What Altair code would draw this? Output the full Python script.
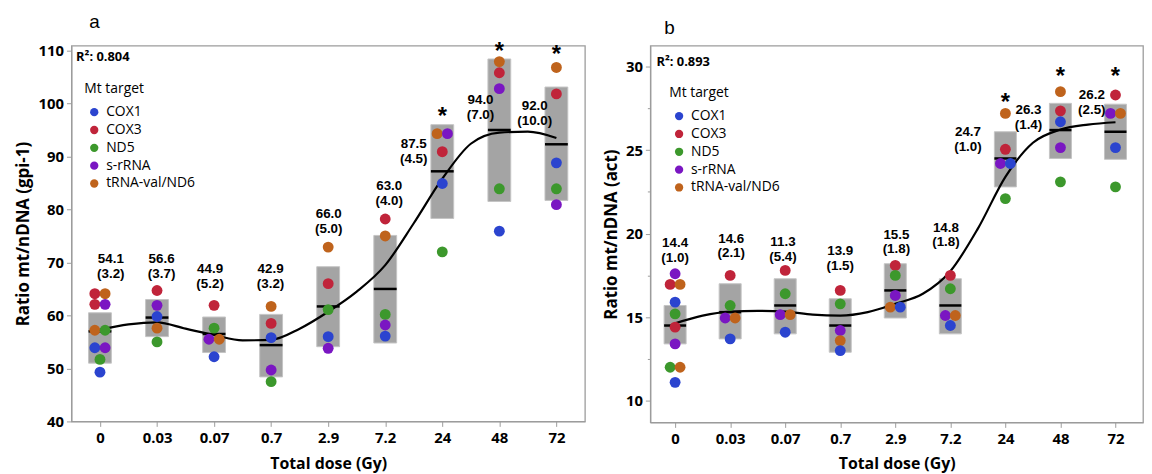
import json
import altair as alt
import pandas as pd

DOSE_LABELS = ["0", "0.03", "0.07", "0.7", "2.9", "7.2", "24", "48", "72"]
TARGETS = ["COX1", "COX3", "ND5", "s-rRNA", "tRNA-val/ND6"]
COLORS = ["#2b44cf", "#c0243a", "#3c982c", "#7a16c2", "#bf631c"]

# ---------------- Panel a (gpi-1) ----------------
A_PT_DOSE = [0, 0, 0, 0, 0, 0, 0, 0, 0, 0,
             1, 1, 1, 1, 1,
             2, 2, 2, 2, 2,
             3, 3, 3, 3, 3,
             4, 4, 4, 4, 4,
             5, 5, 5, 5, 5,
             6, 6, 6, 6, 6,
             7, 7, 7, 7, 7,
             8, 8, 8, 8, 8]
A_PT_TARGET = ["COX3", "tRNA-val/ND6", "COX3", "s-rRNA", "tRNA-val/ND6", "ND5", "COX1", "s-rRNA", "ND5", "COX1",
               "COX3", "s-rRNA", "COX1", "tRNA-val/ND6", "ND5",
               "COX3", "ND5", "s-rRNA", "tRNA-val/ND6", "COX1",
               "tRNA-val/ND6", "COX3", "COX1", "s-rRNA", "ND5",
               "tRNA-val/ND6", "COX3", "ND5", "COX1", "s-rRNA",
               "COX3", "tRNA-val/ND6", "ND5", "s-rRNA", "COX1",
               "tRNA-val/ND6", "s-rRNA", "COX3", "COX1", "ND5",
               "tRNA-val/ND6", "COX3", "s-rRNA", "ND5", "COX1",
               "tRNA-val/ND6", "COX3", "COX1", "ND5", "s-rRNA"]
A_PT_VALUE = [64.1, 64.1, 62.1, 62.1, 57.2, 57.2, 53.9, 53.9, 51.7, 49.3,
              64.7, 61.9, 59.8, 57.6, 55.0,
              61.9, 57.6, 55.5, 55.5, 52.2,
              61.7, 58.5, 55.8, 49.7, 47.5,
              72.9, 66.0, 61.1, 56.0, 53.8,
              78.2, 75.0, 60.2, 58.2, 56.1,
              94.3, 94.3, 90.9, 84.9, 72.0,
              107.9, 105.8, 102.8, 83.9, 75.9,
              106.8, 101.8, 88.8, 83.9, 80.9]
A_PT_SLOT = [-1, 1, -1, 1, -1, 1, -1, 1, 0, 0,
             0, 0, 0, 0, 0,
             0, 0, -1, 1, 0,
             0, 0, 0, 0, 0,
             0, 0, 0, 0, 0,
             0, 0, 0, 0, 0,
             -1, 1, 0, 0, 0,
             0, 0, 0, 0, 0,
             0, 0, 0, 0, 0]
A_BOX_LO = [51.0, 56.0, 53.0, 48.4, 54.1, 54.8, 78.3, 81.5, 81.7]
A_BOX_HI = [60.5, 63.0, 59.7, 60.2, 69.2, 75.1, 96.0, 108.4, 103.1]
A_BOX_MEAN = [57.0, 59.6, 56.5, 54.4, 61.7, 65.0, 87.2, 95.0, 92.3]
A_CURVE_X = [0, 0.5, 1, 1.5, 2, 2.5, 3, 3.5, 4, 4.5, 5, 5.5, 6, 6.5, 7, 7.5, 8]
A_CURVE_Y = [57.3, 58.3, 58.7, 57.5, 56.3, 55.3, 55.4, 57.5, 60.7, 64.5, 69.5, 77.4,
             85.8, 92.4, 94.5, 94.7, 93.5]
A_ANN_MEAN = ["54.1", "56.6", "44.9", "42.9", "66.0", "63.0", "87.5", "94.0", "92.0"]
A_ANN_SD = ["3.2", "3.7", "5.2", "3.2", "5.0", "4.0", "4.5", "7.0", "10.0"]
A_ANN_X = [0.19, 1.08, 1.93, 2.99, 4.01, 5.07, 5.50, 6.67, 7.62]
A_ANN_Y = [70.7, 70.7, 68.8, 68.8, 79.1, 84.4, 92.4, 100.6, 99.5]   # first text line
A_STAR_X = [6, 7, 8]
A_STAR_Y = [98.4, 110.6, 110.0]
A_R2 = "R²: 0.804"
A_R2_X, A_R2_Y = -0.42, 108.7

# ---------------- Panel b (act) ----------------
B_PT_DOSE = A_PT_DOSE
B_PT_TARGET = ["s-rRNA", "COX3", "tRNA-val/ND6", "COX1", "ND5", "COX3", "s-rRNA", "ND5", "tRNA-val/ND6", "COX1",
               "COX3", "ND5", "s-rRNA", "tRNA-val/ND6", "COX1",
               "COX3", "ND5", "s-rRNA", "tRNA-val/ND6", "COX1",
               "COX3", "ND5", "s-rRNA", "tRNA-val/ND6", "COX1",
               "COX3", "ND5", "s-rRNA", "tRNA-val/ND6", "COX1",
               "COX3", "ND5", "s-rRNA", "tRNA-val/ND6", "COX1",
               "tRNA-val/ND6", "COX3", "s-rRNA", "COX1", "ND5",
               "tRNA-val/ND6", "COX3", "COX1", "s-rRNA", "ND5",
               "COX3", "s-rRNA", "tRNA-val/ND6", "COX1", "ND5"]
B_PT_VALUE = [17.6, 16.96, 16.96, 15.9, 15.2, 14.4, 13.4, 12.0, 12.0, 11.1,
              17.5, 15.7, 14.95, 14.95, 13.7,
              17.8, 16.4, 15.15, 15.15, 14.1,
              16.6, 15.8, 14.2, 13.6, 13.0,
              18.1, 17.5, 16.3, 15.6, 15.6,
              17.5, 16.7, 15.1, 15.1, 14.5,
              27.2, 25.05, 24.2, 24.2, 22.1,
              28.5, 27.35, 26.7, 25.15, 23.1,
              28.3, 27.2, 27.2, 25.15, 22.8]
B_PT_SLOT = [0, -1, 1, 0, 0, 0, 0, -1, 1, 0,
             0, 0, -1, 1, 0,
             0, 0, -1, 1, 0,
             0, 0, 0, 0, 0,
             0, 0, 0, -1, 1,
             0, 0, -1, 1, 0,
             0, 0, -1, 1, 0,
             0, 0, 0, 0, 0,
             0, -1, 1, 0, 0]
B_BOX_LO = [13.4, 13.7, 14.0, 12.9, 14.95, 14.0, 22.8, 24.5, 24.45]
B_BOX_HI = [15.7, 17.0, 17.3, 16.1, 18.2, 17.3, 26.1, 27.8, 27.75]
B_BOX_MEAN = [14.5, 15.3, 15.7, 14.5, 16.6, 15.7, 24.5, 26.2, 26.1]
B_CURVE_X = [0, 0.5, 1, 1.5, 2, 2.5, 3, 3.5, 4, 4.5, 5, 5.5, 6, 6.5, 7, 7.5, 8]
B_CURVE_Y = [14.63, 15.09, 15.33, 15.38, 15.33, 15.15, 15.09, 15.3, 15.8, 16.4, 17.75,
             20.3, 23.4, 25.44, 26.23, 26.53, 26.67]
B_ANN_MEAN = ["14.4", "14.6", "11.3", "13.9", "15.5", "14.8", "24.7", "26.3", "26.2"]
B_ANN_SD = ["1.0", "2.1", "5.4", "1.5", "1.8", "1.8", "1.0", "1.4", "2.5"]
B_ANN_X = [0.0, 1.02, 1.96, 3.0, 4.02, 4.92, 5.32, 6.42, 7.57]
B_ANN_Y = [19.41, 19.70, 19.47, 18.93, 19.94, 20.36, 26.09, 27.40, 28.28]   # first text line
B_STAR_X = [6, 7, 8]
B_STAR_Y = [28.1, 29.7, 29.7]
B_R2 = "R²: 0.893"
B_R2_X, B_R2_Y = -0.34, 30.3

LABEL_EXPR = json.dumps(DOSE_LABELS) + "[datum.value]"
BOX_HALF = 0.2
DODGE = 0.09


def panel(letter, pt_dose, pt_target, pt_value, pt_slot, lo, hi, mean, cx, cy,
          ann_mean, ann_sd, ann_x, ann_y, star_x, star_y, r2, r2x, r2y,
          ydomain, yvalues, ytitle, xdomain, width, height, legend_xy,
          title_dx, ytitle_pad, minor=False):
    xscale = alt.Scale(domain=xdomain, nice=False, zero=False)
    yscale = alt.Scale(domain=ydomain, nice=False, zero=False)
    xaxis = alt.Axis(values=list(range(len(DOSE_LABELS))), labelExpr=LABEL_EXPR,
                     title="Total dose (Gy)", grid=False, tickSize=5, labelPadding=4,
                     titlePadding=10)
    yaxis_kw = dict(values=yvalues, title=ytitle, grid=False, labelPadding=3,
                    titlePadding=ytitle_pad)
    if minor:
        yaxis_kw["tickSize"] = {"condition": {"test": "datum.value % 5 !== 0", "value": 3}, "value": 5}
        yaxis_kw["labelExpr"] = "datum.value % 5 === 0 ? datum.label : ''"
    else:
        yaxis_kw["tickSize"] = 5
    yaxis = alt.Axis(**yaxis_kw)

    def X(f):
        return alt.X(f, type="quantitative", scale=xscale, axis=xaxis)

    def Y(f):
        return alt.Y(f, type="quantitative", scale=yscale, axis=yaxis)

    idx = list(range(len(DOSE_LABELS)))
    boxes = pd.DataFrame({"i": idx, "lo": lo, "hi": hi, "mean": mean})
    boxes["x0"] = boxes["i"] - BOX_HALF
    boxes["x1"] = boxes["i"] + BOX_HALF
    pts = pd.DataFrame({"i": pt_dose, "target": pt_target, "v": pt_value, "slot": pt_slot})
    pts["px"] = pts["i"] + pts["slot"] * DODGE
    curve = pd.DataFrame({"cx": cx, "cy": cy})
    ann = pd.DataFrame({"ax": ann_x, "ay": ann_y, "m": ann_mean,
                        "s": [f"({s})" for s in ann_sd]})
    stars = pd.DataFrame({"sx": star_x, "sy": star_y, "s": ["*"] * len(star_x)})
    r2df = pd.DataFrame({"rx": [r2x], "ry": [r2y], "t": [r2]})

    l_box = alt.Chart(boxes).mark_rect(color="#a4a4a4", stroke="#c4c4c4", strokeWidth=1).encode(
        x=X("x0"), x2="x1", y=Y("lo"), y2="hi")
    l_mean = alt.Chart(boxes).mark_rule(color="black", strokeWidth=2.5).encode(
        x=X("x0"), x2="x1", y=Y("mean"))
    l_curve = alt.Chart(curve).mark_line(color="black", strokeWidth=2.2, interpolate="monotone").encode(
        x=X("cx"), y=Y("cy"))
    l_pts = alt.Chart(pts).mark_circle(size=120, opacity=1).encode(
        x=X("px"), y=Y("v"),
        color=alt.Color("target:N",
                        scale=alt.Scale(domain=TARGETS, range=COLORS),
                        legend=alt.Legend(title="Mt target", orient="none",
                                          legendX=legend_xy[0], legendY=legend_xy[1],
                                          titleFont="Open Sans", titleFontWeight="normal",
                                          titleFontSize=14, titleColor="black",
                                          labelFont="Open Sans", labelFontSize=14,
                                          labelColor="black", symbolSize=70,
                                          symbolType="circle", symbolOffset=3,
                                          labelOffset=5, rowPadding=4, titlePadding=9,
                                          padding=0, symbolStrokeWidth=0)))
    txt = dict(font="Liberation Sans", fontWeight="bold", fontSize=13.5,
               baseline="middle", align="center", color="black")
    l_ann1 = alt.Chart(ann).mark_text(**txt).encode(x=X("ax"), y=Y("ay"), text="m:N")
    l_ann2 = alt.Chart(ann).mark_text(dy=15, **txt).encode(x=X("ax"), y=Y("ay"), text="s:N")
    l_star = alt.Chart(stars).mark_text(font="Liberation Sans", fontWeight="bold", fontSize=24,
                                        baseline="middle", align="center", dy=5,
                                        color="black").encode(
        x=X("sx"), y=Y("sy"), text="s:N")
    l_r2 = alt.Chart(r2df).mark_text(font="Open Sans", fontWeight="bold", fontSize=13,
                                     baseline="middle", align="left", color="black").encode(
        x=X("rx"), y=Y("ry"), text="t:N")

    return alt.layer(l_box, l_mean, l_curve, l_pts, l_ann1, l_ann2, l_star, l_r2).properties(
        width=width, height=height,
        title=alt.TitleParams(letter, anchor="start", frame="group", dx=title_dx,
                              offset=8, font="Liberation Sans", fontSize=19,
                              fontWeight="normal", color="black"))


pa = panel("a", A_PT_DOSE, A_PT_TARGET, A_PT_VALUE, A_PT_SLOT, A_BOX_LO, A_BOX_HI,
           A_BOX_MEAN, A_CURVE_X, A_CURVE_Y, A_ANN_MEAN, A_ANN_SD, A_ANN_X, A_ANN_Y,
           A_STAR_X, A_STAR_Y, A_R2, A_R2_X, A_R2_Y,
           ydomain=[40, 110.9], yvalues=[40, 50, 60, 70, 80, 90, 100, 110],
           ytitle="Ratio mt/nDNA (gpi-1)", xdomain=[-0.5, 8.5], width=518, height=379,
           legend_xy=(13, 37), title_dx=18, ytitle_pad=6)

pb = panel("b", B_PT_DOSE, B_PT_TARGET, B_PT_VALUE, B_PT_SLOT, B_BOX_LO, B_BOX_HI,
           B_BOX_MEAN, B_CURVE_X, B_CURVE_Y, B_ANN_MEAN, B_ANN_SD, B_ANN_X, B_ANN_Y,
           B_STAR_X, B_STAR_Y, B_R2, B_R2_X, B_R2_Y,
           ydomain=[8.7, 31.25], yvalues=[10, 12.5, 15, 17.5, 20, 22.5, 25, 27.5, 30],
           ytitle="Ratio mt/nDNA (act)", xdomain=[-0.45, 8.5], width=497, height=380,
           legend_xy=(19, 41), title_dx=14, ytitle_pad=5, minor=True)

chart = alt.hconcat(pa, pb, spacing=16).resolve_scale(
    x="independent", y="independent", color="independent"
).resolve_legend(color="independent").properties(
    padding={"left": 5, "top": 2, "right": 0, "bottom": 0}
).configure_view(
    stroke="#9c9c9c", strokeWidth=1.3
).configure_axis(
    domainColor="#9c9c9c", tickColor="#9c9c9c", labelFont="Open Sans", labelFontWeight="bold",
    labelFontSize=15, labelColor="black", titleFont="Open Sans", titleFontWeight="bold",
    titleColor="black"
).configure_axisX(titleFontSize=16).configure_axisY(titleFontSize=17)

chart.save("out.html", embed_options={"renderer": "svg", "actions": False})
